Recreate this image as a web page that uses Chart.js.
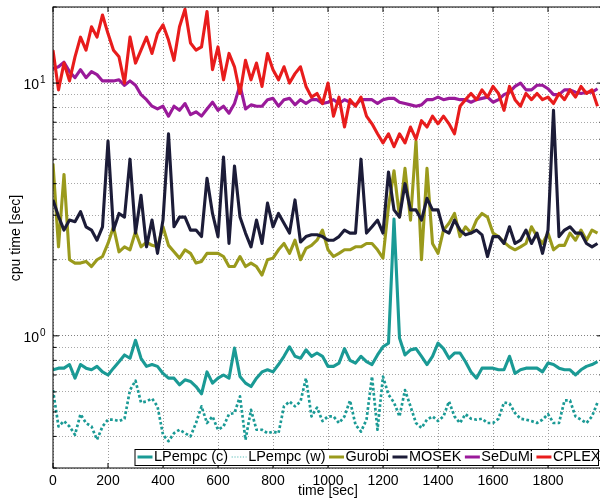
<!DOCTYPE html>
<html>
<head>
<meta charset="utf-8">
<script src="https://cdn.jsdelivr.net/npm/chart.js@4.4.0/dist/chart.umd.min.js"></script>
<style>
  html, body { margin: 0; padding: 0; background: #fff; overflow: hidden; }
  #wrap { width: 604px; height: 502px; }
</style>
</head>
<body>
<div id="wrap"><canvas id="cpuChart" width="604" height="502"></canvas></div>
<script>
// sample times [sec]
const times = [
  0, 20, 40, 60, 80, 100, 120, 140, 160, 180, 200, 220, 240, 260, 280, 300, 320, 340, 360, 380,
  400, 420, 440, 460, 480, 500, 520, 540, 560, 580, 600, 620, 640, 660, 680, 700, 720, 740, 760, 780,
  800, 820, 840, 860, 880, 900, 920, 940, 960, 980, 1000, 1020, 1040, 1060, 1080, 1100, 1120, 1140, 1160, 1180,
  1200, 1220, 1240, 1260, 1280, 1300, 1320, 1340, 1360, 1380, 1400, 1420, 1440, 1460, 1480, 1500, 1520, 1540, 1560, 1580,
  1600, 1620, 1640, 1660, 1680, 1700, 1720, 1740, 1760, 1780, 1800, 1820, 1840, 1860, 1880, 1900, 1920, 1940, 1960, 1980
];

// cpu time [sec] per solver
const lpempcC = [
  0.734, 0.745, 0.745, 0.77, 0.68, 0.77, 0.745, 0.734, 0.757, 0.72,
  0.70, 0.745, 0.79, 0.84, 0.815, 0.96, 0.815, 0.757, 0.77, 0.757,
  0.71, 0.68, 0.68, 0.64, 0.67, 0.66, 0.63, 0.59, 0.72, 0.65,
  0.68, 0.70, 0.68, 0.895, 0.69, 0.65, 0.63, 0.68, 0.72, 0.734,
  0.72, 0.77, 0.83, 0.905, 0.83, 0.815, 0.88, 0.83, 0.855, 0.83,
  0.757, 0.757, 0.78, 0.89, 0.80, 0.78, 0.83, 0.79, 0.77, 0.84,
  0.905, 0.935, 2.9, 0.98, 0.84, 0.88, 0.89, 0.83, 0.77, 0.83,
  0.935, 0.89, 0.815, 0.855, 0.855, 0.79, 0.72, 0.68, 0.745, 0.745,
  0.745, 0.734, 0.734, 0.83, 0.71, 0.734, 0.745, 0.745, 0.745, 0.72,
  0.78, 0.77, 0.745, 0.734, 0.734, 0.70, 0.734, 0.757, 0.77, 0.79
];
const lpempcW = [
  0.61, 0.438, 0.46, 0.438, 0.406, 0.49, 0.452, 0.438, 0.388, 0.438,
  0.466, 0.466, 0.46, 0.47, 0.61, 0.665, 0.545, 0.55, 0.565, 0.526,
  0.406, 0.383, 0.412, 0.425, 0.412, 0.40, 0.452, 0.526, 0.452, 0.48,
  0.425, 0.438, 0.49, 0.495, 0.576, 0.388, 0.51, 0.425, 0.425, 0.412,
  0.418, 0.412, 0.526, 0.55, 0.526, 0.55, 0.68, 0.48, 0.52, 0.46,
  0.48, 0.48, 0.452, 0.48, 0.555, 0.445, 0.418, 0.466, 0.69, 0.425,
  0.69, 0.585, 0.545, 0.48, 0.61, 0.526, 0.452, 0.432, 0.466, 0.48,
  0.46, 0.48, 0.55, 0.48, 0.452, 0.49, 0.47, 0.466, 0.47, 0.452,
  0.452, 0.47, 0.545, 0.54, 0.495, 0.47, 0.466, 0.46, 0.452, 0.466,
  0.49, 0.452, 0.452, 0.555, 0.555, 0.48, 0.466, 0.452, 0.48, 0.545
];
const gurobi = [
  4.8, 2.25, 4.35, 2.0, 1.94, 1.94, 1.97, 1.88, 2.0, 2.06,
  2.32, 2.7, 2.15, 2.25, 2.19, 2.58, 2.25, 2.35, 2.28, 2.25,
  2.7, 2.28, 2.15, 2.03, 2.19, 2.12, 1.94, 1.97, 2.12, 2.12,
  2.12, 2.06, 1.88, 1.88, 2.06, 1.88, 1.94, 1.88, 1.74, 2.0,
  2.03, 2.19, 2.32, 2.12, 2.39, 2.0, 2.22, 2.28, 2.39, 2.62,
  2.19, 2.06, 2.12, 2.19, 2.19, 2.25, 2.25, 2.32, 2.32, 2.19,
  2.03, 3.25, 4.5, 2.95, 4.6, 2.87, 5.9, 2.0, 4.6, 2.32,
  2.12, 2.62, 2.79, 3.05, 2.47, 2.7, 2.55, 2.87, 3.05, 2.95,
  2.55, 2.47, 2.35, 2.25, 2.19, 2.25, 2.32, 2.7, 2.47, 2.32,
  2.55, 2.19, 2.28, 2.28, 2.55, 2.39, 2.62, 2.39, 2.62, 2.55
];
const mosek = [
  3.45, 2.97, 2.62, 2.87, 2.83, 3.1, 2.7, 2.62, 2.39, 2.7,
  5.9, 2.62, 3.05, 2.95, 5.0, 2.55, 3.6, 2.25, 2.87, 2.12,
  2.87, 6.3, 2.7, 2.95, 2.95, 2.62, 2.62, 2.47, 4.2, 3.05,
  2.47, 5.1, 2.32, 4.7, 2.95, 2.55, 2.25, 2.87, 2.32, 3.35,
  2.7, 3.05, 2.79, 2.55, 3.45, 2.35, 2.47, 2.51, 2.51, 2.47,
  2.39, 2.39, 2.47, 2.62, 2.55, 2.55, 5.0, 2.55, 2.7, 2.87,
  2.55, 4.45, 3.15, 2.95, 4.0, 3.15, 3.15, 2.87, 3.5, 3.15,
  3.15, 2.62, 2.55, 2.87, 2.62, 2.51, 2.55, 2.62, 2.51, 2.06,
  2.47, 2.47, 2.32, 2.7, 2.32, 2.39, 2.62, 2.32, 2.55, 2.12,
  2.62, 7.8, 2.47, 2.62, 2.7, 2.55, 2.55, 2.32, 2.25, 2.32
];
const sedumi = [
  11.4, 11.6, 12.1, 11.1, 10.5, 11.3, 10.5, 11.1, 10.8, 10.2,
  10.2, 10.2, 10.3, 9.8, 10.2, 9.8, 9.0, 8.6, 8.1, 7.9,
  8.1, 7.4, 8.1, 7.8, 8.3, 7.5, 7.7, 7.4, 7.9, 8.4,
  7.8, 8.1, 7.6, 8.3, 9.8, 7.9, 8.2, 8.1, 8.1, 8.6,
  8.7, 8.1, 8.6, 8.7, 8.2, 8.6, 8.3, 8.6, 8.6, 8.3,
  8.4, 8.6, 8.3, 8.6, 8.4, 8.2, 8.6, 8.6, 8.6, 8.3,
  8.6, 8.7, 8.7, 8.4, 8.3, 8.2, 8.1, 8.2, 8.6, 8.6,
  8.8, 8.6, 8.7, 8.7, 8.6, 8.6, 8.4, 8.6, 8.7, 8.8,
  8.4, 8.6, 9.0, 9.2, 9.7, 10.0, 9.4, 9.4, 9.8, 9.8,
  9.5, 9.0, 9.0, 9.4, 9.4, 9.2, 9.1, 9.2, 9.2, 9.5
];
const cplex = [
  13.5, 9.4, 12.0, 10.2, 12.7, 15.2, 13.5, 16.7, 15.2, 18.6,
  15.7, 13.5, 12.7, 10.0, 15.2, 12.0, 13.5, 15.2, 13.1, 15.7,
  17.0, 14.8, 12.3, 16.7, 19.6, 14.4, 13.5, 13.9, 19.2, 11.3,
  13.9, 10.3, 13.1, 11.6, 9.1, 12.3, 10.3, 12.0, 9.7, 13.1,
  11.3, 10.3, 11.6, 10.0, 10.9, 11.6, 9.7, 8.8, 9.1, 8.3,
  10.0, 7.4, 8.8, 6.7, 8.6, 8.1, 8.8, 7.4, 6.9, 6.3,
  5.8, 6.3, 5.6, 6.3, 5.8, 6.7, 6.0, 7.1, 6.7, 7.4,
  6.9, 7.4, 6.9, 6.3, 8.1, 8.6, 9.1, 8.6, 9.4, 8.8,
  9.7, 9.1, 7.8, 9.7, 8.6, 8.1, 9.1, 8.6, 9.1, 8.6,
  8.8, 8.3, 9.1, 8.6, 9.4, 8.8, 9.7, 9.1, 9.4, 8.1
];

const seriesNames = ["LPempc (c)", "LPempc (w)", "Gurobi", "MOSEK", "SeDuMi", "CPLEX"];
const seriesValues = [lpempcC, lpempcW, gurobi, mosek, sedumi, cplex];
const seriesColors = ["#1a9a95", "#1a9a95", "#9a9a1c", "#1c1c38", "#9a1a9a", "#e81c1c"];

const xTicks = [0, 200, 400, 600, 800, 1000, 1200, 1400, 1600, 1800];
const yTicks = [0.3, 0.4, 0.5, 0.6, 0.7, 0.8, 0.9, 1, 2, 3, 4, 5, 6, 7, 8, 9, 10, 20];
const yLabelled = [1, 10];

const FONT = '"Liberation Sans", Arial, Helvetica, sans-serif';
Chart.defaults.font.family = FONT;
Chart.defaults.font.size = 14;
Chart.defaults.color = "#000";

const datasets = seriesNames.map((name, i) => ({
  label: name,
  data: times.map((t, k) => ({ x: t, y: seriesValues[i][k] })),
  borderColor: seriesColors[i],
  borderWidth: i === 1 ? 2.7 : 3.1,
  borderDash: i === 1 ? [2.7, 2.3] : [],
  borderJoinStyle: "round",
  pointRadius: 0,
  tension: 0,
  fill: false,
  order: seriesNames.length - i   // later series drawn on top
}));

// frame, inward ticks, log labels, axis titles and the boxed legend
const decorations = {
  id: "decorations",
  afterDraw(chart) {
    const ctx = chart.ctx;
    const a = chart.chartArea;
    const xs = chart.scales.x, ys = chart.scales.y;
    ctx.save();
    ctx.strokeStyle = "#000";
    ctx.lineWidth = 1;
    ctx.setLineDash([]);
    ctx.strokeRect(a.left, a.top, a.right - a.left, a.bottom - a.top);

    ctx.beginPath();
    yTicks.forEach(v => {
      const y = ys.getPixelForValue(v);
      const len = yLabelled.includes(v) ? 6 : 3.5;
      ctx.moveTo(a.left, y); ctx.lineTo(a.left + len, y);
      ctx.moveTo(a.right, y); ctx.lineTo(a.right - len, y);
    });
    xTicks.forEach(v => {
      const x = xs.getPixelForValue(v);
      ctx.moveTo(x, a.bottom); ctx.lineTo(x, a.bottom - 5);
      ctx.moveTo(x, a.top); ctx.lineTo(x, a.top + 5);
    });
    ctx.stroke();

    // y labels as 10^n
    ctx.fillStyle = "#000";
    yLabelled.forEach(v => {
      const y = ys.getPixelForValue(v);
      ctx.font = "14px " + FONT;
      ctx.textAlign = "right";
      ctx.textBaseline = "alphabetic";
      ctx.fillText("10", a.left - 14, y + 6);
      ctx.font = "10px " + FONT;
      ctx.textAlign = "left";
      ctx.fillText(String(Math.round(Math.log10(v))), a.left - 13, y);
    });

    // axis titles
    ctx.font = "14px " + FONT;
    ctx.textAlign = "center";
    ctx.textBaseline = "middle";
    ctx.fillText("time [sec]", (a.left + a.right) / 2, 491);
    ctx.save();
    ctx.translate(16, 238);
    ctx.rotate(-Math.PI / 2);
    ctx.fillText("cpu time [sec]", 0, 0);
    ctx.restore();

    // legend
    ctx.font = "14.5px " + FONT;
    const boxL = 135, boxT = 449.5, boxB = 465.5, midY = 457;
    let x = boxL + 2.5;
    const items = chart.data.datasets.map(ds => {
      const w = ctx.measureText(ds.label).width;
      const it = { ds, x };
      x += 15 + 1.5 + w + 3.5;
      return it;
    });
    const boxR = Math.min(x - 1.5, 598.5);
    ctx.fillStyle = "#fff";
    ctx.fillRect(boxL, boxT, boxR - boxL, boxB - boxT);
    ctx.strokeStyle = "#000";
    ctx.lineWidth = 1;
    ctx.strokeRect(boxL, boxT, boxR - boxL, boxB - boxT);
    items.forEach(({ ds, x }) => {
      ctx.beginPath();
      if (ds.borderDash.length) {
        ctx.setLineDash([1.2, 1.6]);
        ctx.lineWidth = 1.6;
        ctx.strokeStyle = "#8fd3cf";
      } else {
        ctx.setLineDash([]);
        ctx.lineWidth = 3;
        ctx.strokeStyle = ds.borderColor;
      }
      ctx.moveTo(x, midY); ctx.lineTo(x + 15, midY);
      ctx.stroke();
      ctx.fillStyle = "#000";
      ctx.textAlign = "left";
      ctx.textBaseline = "middle";
      ctx.fillText(ds.label, x + 16.5, midY - 0.5);
    });
    ctx.restore();
  }
};

new Chart(document.getElementById("cpuChart").getContext("2d"), {
  type: "line",
  data: { datasets },
  options: {
    responsive: false,
    animation: false,
    layout: { padding: { top: 7, right: 1, left: 0, bottom: 0 } },
    plugins: { legend: { display: false }, tooltip: { enabled: false } },
    scales: {
      x: {
        type: "linear",
        min: 0,
        max: 2000,
        afterBuildTicks: s => { s.ticks = xTicks.map(v => ({ value: v })); },
        afterFit: s => { s.height = 34; },
        grid: { color: "#9a9a9a", lineWidth: 1, drawTicks: false },
        border: { display: false, dash: [1, 2] },
        ticks: {
          padding: 5, maxRotation: 0, autoSkip: false, font: { size: 14 },
          callback: v => String(v)
        }
      },
      y: {
        type: "logarithmic",
        min: 0.3,
        max: 20,
        afterBuildTicks: s => { s.ticks = yTicks.map(v => ({ value: v })); },
        afterFit: s => { s.width = 53; },
        grid: {
          color: c => (c.tick && yLabelled.includes(c.tick.value)) ? "#808080" : "#a8a8a8",
          lineWidth: 1,
          drawTicks: false
        },
        border: { display: false, dash: [1, 2] },
        ticks: { display: false }
      }
    }
  },
  plugins: [decorations]
});
</script>
</body>
</html>
